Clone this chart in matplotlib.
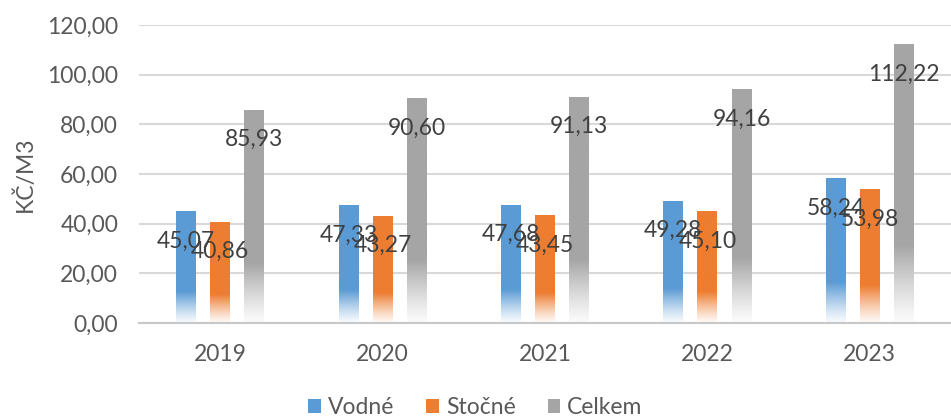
import numpy as np
import matplotlib
matplotlib.use("Agg")
import matplotlib.pyplot as plt
from matplotlib.patches import Patch
from matplotlib.ticker import FuncFormatter, MultipleLocator
from matplotlib.colors import to_rgb

plt.rcParams['font.family'] = ['Lato', 'DejaVu Sans']

years = ['2019', '2020', '2021', '2022', '2023']
vodne = [45.07, 47.33, 47.68, 49.28, 58.24]
stocne = [40.86, 43.27, 43.45, 45.10, 53.98]
celkem = [85.93, 90.60, 91.13, 94.16, 112.22]
series_names = ['Vodné', 'Stočné', 'Celkem']
colors = ['#5B9BD5', '#ED7D31', '#A5A5A5']
ylabel = 'KČ/M3'

def fmt(v):
    return f"{v:.2f}".replace('.', ',')

fig = plt.figure(figsize=(9.51, 4.20), dpi=100)
ax = fig.add_axes([139/951, (420-323)/420, (951-139)/951, (323-25)/420])

x = np.arange(len(years))
width = 0.123
offset = 0.21
text_color = '#404040'
tick_color = '#595959'

def gradient_img(color, n=256):
    c = np.array(to_rgb(color))
    t = np.linspace(0, 1, n)  # 0 bottom, 1 top
    f = np.clip(t / 0.28, 0.0, 1.0) ** 1.2
    f = 0.04 + 0.96 * f
    img = np.ones((n, 1, 3)) * (1 - f)[:, None, None] + c[None, None, :] * f[:, None, None]
    return img

for i, (vals, col) in enumerate(zip([vodne, stocne, celkem], colors)):
    xs = x + (i - 1) * offset
    bars = ax.bar(xs, vals, width, color='none', edgecolor='none', zorder=2)
    img = gradient_img(col)
    for b in bars:
        x0, y0 = b.get_x(), b.get_y()
        w, h = b.get_width(), b.get_height()
        im = ax.imshow(img, extent=[x0, x0 + w, y0, y0 + h], origin='lower',
                       aspect='auto', zorder=2, interpolation='bilinear')
        im.set_clip_path(b)
    for xi, v in zip(xs, vals):
        ax.annotate(fmt(v), (xi, v), xytext=(0, -30), textcoords='offset pixels',
                    ha='center', va='center', fontsize=16.5, color=text_color, zorder=5)

ax.set_xlim(-0.5, len(years) - 0.5)
ax.set_ylim(0, 120)
ax.yaxis.set_major_locator(MultipleLocator(20))
ax.yaxis.set_major_formatter(FuncFormatter(lambda v, p: fmt(v)))
ax.set_xticks(x)
ax.set_xticklabels(years)
ax.tick_params(axis='both', length=0, labelsize=16.5, labelcolor=tick_color)
ax.tick_params(axis='y', pad=15)
ax.tick_params(axis='x', pad=15)
ax.grid(axis='y', color='#D9D9D9', linewidth=1.5, zorder=0)
ax.set_axisbelow(True)
for s in ['top', 'right', 'left']:
    ax.spines[s].set_visible(False)
ax.spines['bottom'].set_color('#C8C8C8')
ax.spines['bottom'].set_linewidth(1.5)
ax.set_ylabel(ylabel, fontsize=16.5, color=tick_color, labelpad=8)

handles = [Patch(facecolor=c, edgecolor='none') for c in colors]
fig.legend(handles, series_names, loc='center', bbox_to_anchor=(0.5, (420-408)/420),
           ncol=3, frameon=False, fontsize=16.5, labelcolor=tick_color,
           handlelength=0.55, handleheight=0.55, handletextpad=0.3, columnspacing=1.4)

fig.savefig('out.png', dpi=100)
